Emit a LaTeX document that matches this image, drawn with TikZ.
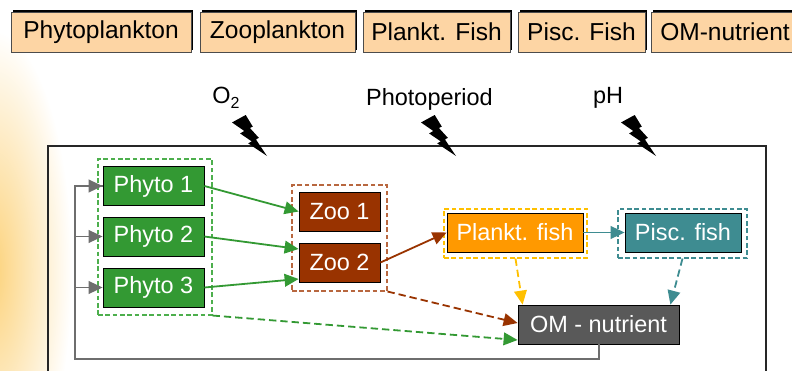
\documentclass[tikz,border=0pt]{standalone}
\usepackage{fontspec}
\setmainfont{Liberation Sans}
\usetikzlibrary{arrows.meta,calc,shadows}
\definecolor{peach}{HTML}{FDD5A4}
\definecolor{cgreen}{HTML}{339933}
\definecolor{cgreenl}{HTML}{4DAF4D}
\definecolor{cbrown}{HTML}{993300}
\definecolor{cbrownl}{HTML}{B8673F}
\definecolor{corange}{HTML}{FF9900}
\definecolor{cyellow}{HTML}{FFC000}
\definecolor{cteal}{HTML}{3E8C91}
\definecolor{cgray}{HTML}{595959}
\definecolor{cline}{HTML}{6E6E6E}
\definecolor{cglow}{HTML}{FCD27A}
\begin{document}
\begin{tikzpicture}[x=0.75pt,y=-0.75pt,
  btn/.style={draw=black!70, fill=peach, minimum height=40*0.75pt, inner sep=0pt,
    font=\fontsize{18.4}{20}\selectfont, text=black,
    drop shadow={shadow xshift=1.5pt, shadow yshift=1.5pt, fill=black, opacity=1}},
  box/.style={draw=black, line width=0.6pt, inner sep=0pt, text=white,
    font=\fontsize{17.6}{20}\selectfont, minimum height=39*0.75pt},
  grp/.style={draw, dash pattern=on 3.5pt off 2pt, line width=0.8pt, inner sep=0pt},
  arr/.style={line width=1.35pt, -{Triangle[length=10.5pt,width=9.5pt]}},
  darr/.style={arr, dash pattern=on 5.5pt off 3pt},
  lbl/.style={font=\fontsize{17.6}{20}\selectfont, inner sep=0pt},
  bolt/.pic={\fill[black] (13.7,0) -- (0,7.45) -- (12.26,15.97) -- (8.09,18.45)
     -- (19.76,26.39) -- (16.18,28.35) -- (35,41) -- (23.93,24.51) -- (26.83,22.81)
     -- (17.87,12.98) -- (20.79,11.62) -- cycle;}
]
\useasboundingbox (0,0) rectangle (792,371);
% background glow
\begin{scope}
\clip (0,0) rectangle (792,371);
\shade[inner color=cglow, outer color=white] (-8,270) ellipse (80 and 240);
\end{scope}
% top buttons
\node[btn, minimum width=180*0.75pt] (b1) at (101,32) {Phytoplankton};
\node[btn, minimum width=155*0.75pt] (b2) at (277.5,32) {Zooplankton};
\node[btn, minimum width=147*0.75pt] (b3) at (436.5,32) {Plankt. Fish};
\node[btn, minimum width=127*0.75pt] (b4) at (581.5,32) {Pisc. Fish};
\node[btn, minimum width=148*0.75pt] (b5) at (725,32) {OM-nutrient};
% main frame
\draw[black!85, line width=0.8pt] (48,390) -- (48,146) -- (766,146) -- (766,390);
% labels
\node[lbl] (lo2) at (226,98) {O\raisebox{-0.45ex}{\fontsize{12}{12}\selectfont 2}};
\node[lbl] (lph) at (429.5,99) {Photoperiod};
\node[lbl] (lpH) at (608,98) {pH};
\pic at (232,115) {bolt};
\pic at (421,115) {bolt};
\pic at (621,115) {bolt};
% groups
\node[grp, draw=cgreenl, minimum width=114*0.75pt, minimum height=156*0.75pt] (gphyto) at (155,237) {};
\node[grp, draw=cbrownl, minimum width=95*0.75pt, minimum height=106*0.75pt] (gzoo) at (339.5,238) {};
\node[grp, draw=cyellow, minimum width=143*0.75pt, minimum height=49*0.75pt] (gplank) at (515.5,233.5) {};
\node[grp, draw=cteal, minimum width=129*0.75pt, minimum height=49*0.75pt] (gpisc) at (682.5,233.5) {};
% boxes
\node[box, fill=cgreen, minimum width=101*0.75pt] (p1) at (153.5,186) {Phyto 1};
\node[box, fill=cgreen, minimum width=101*0.75pt] (p2) at (153.5,236.5) {Phyto 2};
\node[box, fill=cgreen, minimum width=101*0.75pt] (p3) at (153.5,287.5) {Phyto 3};
\node[box, fill=cbrown, minimum width=81*0.75pt] (z1) at (339.5,211.5) {Zoo 1};
\node[box, fill=cbrown, minimum width=81*0.75pt] (z2) at (339.5,262.5) {Zoo 2};
\node[box, fill=corange, minimum width=136*0.75pt] (pf) at (515,232.5) {Plankt. fish};
\node[box, fill=cteal, minimum width=116*0.75pt] (sf) at (683,232.5) {Pisc. fish};
\node[box, fill=cgray, minimum width=161*0.75pt] (om) at (598.5,324.5) {OM - nutrient};
% feedback
\coordinate (fbc) at (75,359);
\draw[cline, line width=1.5pt] (om.south) |- (fbc) |- (p1.west);
\draw[cline, arr] (fbc |- p1.west) -- (p1.west);
\draw[cline, arr] (fbc |- p2.west) -- (p2.west);
\draw[cline, arr] (fbc |- p3.west) -- (p3.west);
% solid arrows
\draw[arr, cgreen] (p1.east) -- (z1.west);
\draw[arr, cgreen] (p2.east) -- ($(z2.west)+(0,-13.5)$);
\draw[arr, cgreen] (p3.east) -- ($(z2.west)+(0,16.5)$);
\draw[arr, cbrown] (z2.east) -- (pf.west);
\draw[arr, cteal] (pf.east) -- (sf.west);
% dashed arrows
\draw[darr, cyellow] (gplank.south) -- ($(om.north west)+(5,0)$);
\draw[darr, cteal] (gpisc.south) -- ($(om.north east)+(-9,0)$);
\draw[darr, cbrown] (gzoo.south east) -- ($(om.west)+(0,-1.5)$);
\draw[darr, cgreen] (gphyto.south east) -- ($(om.west)+(0,15.5)$);
\end{tikzpicture}
\end{document}
